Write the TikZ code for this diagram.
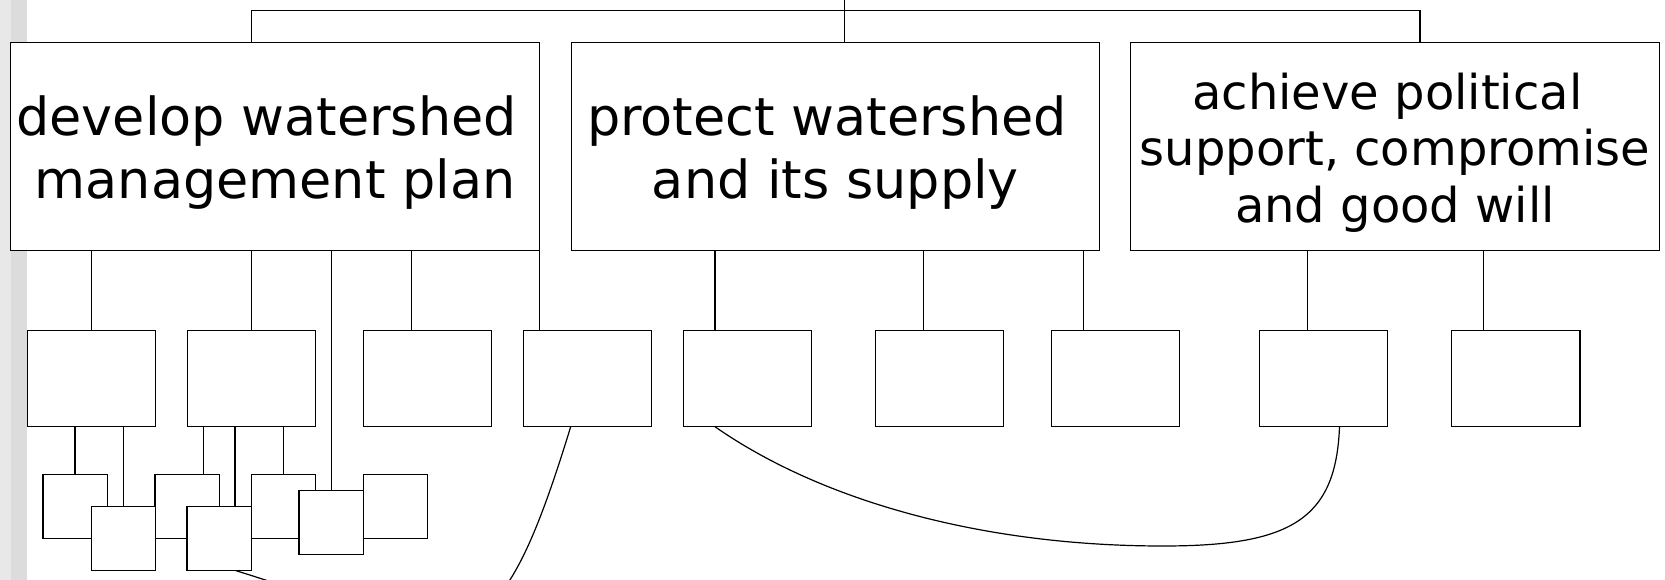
\documentclass[tikz,border=0pt]{standalone}
\usepackage{fontspec}
\setmainfont{DejaVu Sans}
\definecolor{graylight}{HTML}{E8E8E8}
\definecolor{graydark}{HTML}{DCDCDC}
\begin{document}
\begin{tikzpicture}[x=1pt,y=-1pt,
  box/.style={draw=black,line width=1.2pt,fill=white,inner sep=0pt,outer sep=0pt,rectangle},
  bigbox/.style={box,minimum width=528.4pt,minimum height=208pt},
  midbox/.style={box,minimum width=128.3pt,minimum height=96.4pt},
  smallbox/.style={box,minimum width=64.2pt,minimum height=63.8pt},
  conn/.style={draw=black,line width=1.2pt},
  bigtext/.style={align=center,inner sep=0pt,font=\fontsize{52.4}{63.7}\selectfont},
  ctext/.style={align=center,inner sep=0pt,font=\fontsize{48}{56.5}\selectfont}]
\useasboundingbox (0,0) rectangle (1665,580);
\clip (0,0) rectangle (1665,580);
\fill[white] (0,0) rectangle (1665,580);
\fill[graylight] (0,0) rectangle (11,580);
\fill[graydark] (11,0) rectangle (27,580);

% top level boxes
\node[bigbox] (A) at (275.05,146.6) {};
\node[bigbox] (B) at (835.35,146.6) {};
\node[bigbox] (C) at (1394.95,146.6) {};
\node[bigtext] (At) at ([yshift=-6pt]A.center) {develop watershed\kern0.318em\\management plan};
\node[bigtext] (Bt) at ([yshift=-6pt]B.center) {protect watershed\kern0.318em\\and its supply};
\node[ctext] (Ct) at ([yshift=-6pt]C.center) {achieve political\kern0.318em\\support, compromise\\and good will};

% second row
\node[midbox] (b1) at (91.25,378.5) {};
\node[midbox] (b2) at (251.25,378.5) {};
\node[midbox] (b3) at (427.3,378.5) {};
\node[midbox] (b4) at (587.3,378.5) {};
\node[midbox] (b5) at (747.3,378.5) {};
\node[midbox] (b6) at (939.3,378.5) {};
\node[midbox] (b7) at (1115.5,378.5) {};
\node[midbox] (b8) at (1323.5,378.5) {};
\node[midbox] (b9) at (1515.8,378.5) {};

% third row (back ones first)
\node[smallbox] (s1) at (75,506.5) {};
\node[smallbox] (s3) at (187,506.5) {};
\node[smallbox] (s5) at (283.2,506.5) {};
\node[smallbox] (s7) at (395.4,506.5) {};
\node[smallbox] (s2) at (123.2,538.7) {};
\node[smallbox] (s4) at (219,538.7) {};
\node[smallbox] (s6) at (331.1,522.7) {};

% top bus
\coordinate (root) at (844.2,0);
\coordinate (bus) at (844.2,10.7);
\draw[conn] ([xshift=-23.5pt]A.north) |- (bus) -| ([xshift=25pt]C.north);
\draw[conn] (root) -- (root |- B.north);

% from A
\draw[conn] (b1.north) -- (b1.north |- A.south);
\draw[conn] (b2.north) -- (b2.north |- A.south);
\draw[conn] (s6.north) -- (s6.north |- A.south);
\draw[conn] ([xshift=-16pt]b3.north) -- ([xshift=-16pt]b3.north |- A.south);
\draw[conn] (A.south east) -- (A.south east |- b4.north);
% from B
\draw[conn] ([xshift=-32.3pt]b5.north) -- ([xshift=-32.3pt]b5.north |- B.south);
\draw[conn] ([xshift=-15.7pt]b6.north) -- ([xshift=-15.7pt]b6.north |- B.south);
\draw[conn] ([xshift=-31.9pt]b7.north) -- ([xshift=-31.9pt]b7.north |- B.south);
% from C
\draw[conn] ([xshift=-15.9pt]b8.north) -- ([xshift=-15.9pt]b8.north |- C.south);
\draw[conn] ([xshift=-32.2pt]b9.north) -- ([xshift=-32.2pt]b9.north |- C.south);

% second to third row
\draw[conn] (s1.north) -- (s1.north |- b1.south);
\draw[conn] (s2.north) -- (s2.north |- b1.south);
\draw[conn] ([xshift=16.6pt]s3.north) -- ([xshift=16.6pt]s3.north |- b2.south);
\draw[conn] ([xshift=16pt]s4.north) -- ([xshift=16pt]s4.north |- b2.south);
\draw[conn] (s5.north) -- (s5.north |- b2.south);

% curves
\draw[conn] ([xshift=16.7pt]s4.south) .. controls (460,640) and (490,690) .. ([xshift=-16.6pt]b4.south);
\coordinate (dip) at (1163,546);
\draw[conn] ([xshift=-32.3pt]b5.south) .. controls (820,500) and (980,546) .. (dip)
  .. controls (1290,546) and (1336,520) .. ([xshift=16pt]b8.south);
\end{tikzpicture}
\end{document}
